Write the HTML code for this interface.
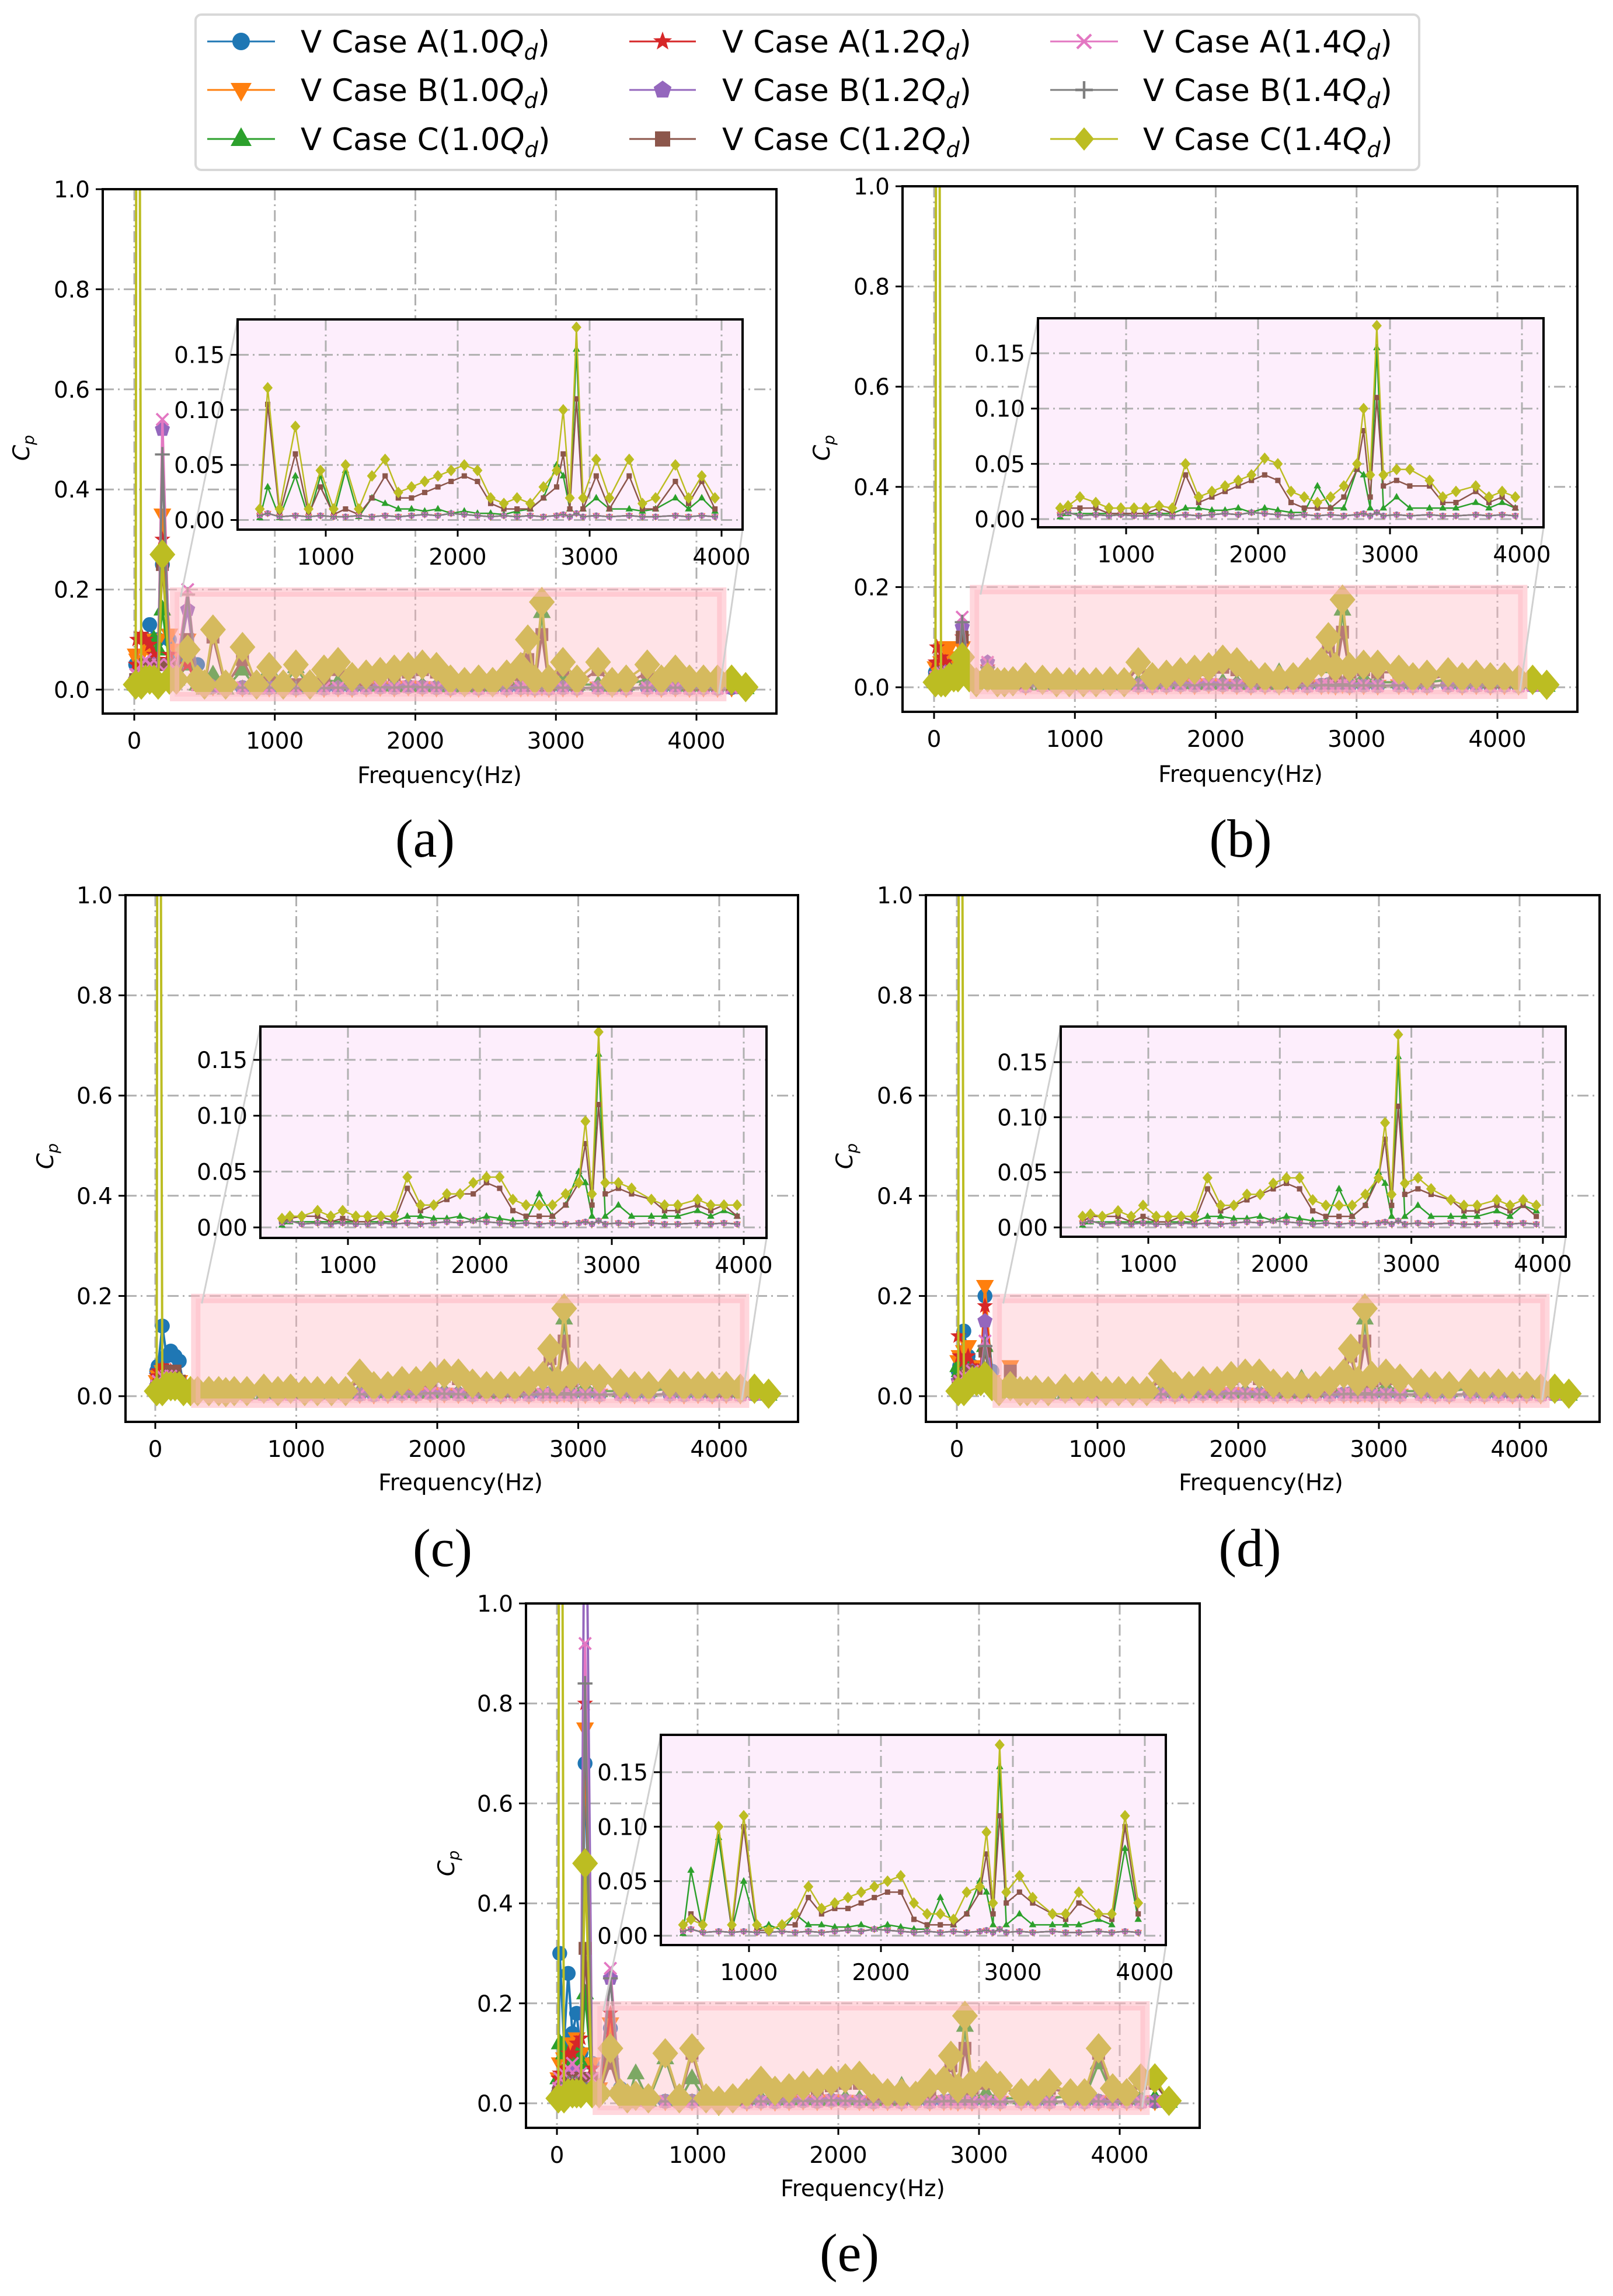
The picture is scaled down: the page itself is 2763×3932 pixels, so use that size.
<!DOCTYPE html>
<html><head><meta charset="utf-8"><style>
html,body{margin:0;padding:0;background:#fff;}
svg{display:block;}
text{font-family:"DejaVu Sans","Liberation Sans",sans-serif;}
</style></head><body>
<svg id="fig" xmlns="http://www.w3.org/2000/svg" width="2763" height="3932" viewBox="0 0 2763 3932">
<rect x="0" y="0" width="2763" height="3932" fill="#fff"/>
<g id="legend"></g>
<g id="panels"></g>
</svg>
<script>
// ---------- DATA ----------
const seriesNames = ["V Case A(1.0Q)","V Case B(1.0Q)","V Case C(1.0Q)","V Case A(1.2Q)","V Case B(1.2Q)","V Case C(1.2Q)","V Case A(1.4Q)","V Case B(1.4Q)","V Case C(1.4Q)"];
const freqLow = [10,20,50,80,110,140,170,200,250,300,380,450];
const freqHigh = [500,560,650,770,870,960,1060,1150,1250,1350,1450,1550,1650,1750,1850,1950,2050,2150,2250,2350,2450,2550,2650,2750,2800,2850,2900,2950,3050,3150,3300,3400,3500,3650,3750,3850,3950,4050,4150,4250,4350];
const otherHigh = [0.004,0.006,0.003,0.004,0.003,0.004,0.003,0.003,0.004,0.003,0.004,0.003,0.004,0.005,0.004,0.006,0.005,0.004,0.003,0.004,0.003,0.004,0.003,0.004,0.005,0.003,0.006,0.003,0.004,0.003,0.004,0.003,0.003,0.004,0.003,0.004,0.003,0.004,0.003,0.004,0.002];

// panel (a)
const lowA = [
[0.05,0.05,0.05,0.1,0.13,0.1,0.1,0.25,0.1,0.05,0.06,0.05],
[0.07,0.06,0.07,0.1,0.08,0.1,0.1,0.35,0.11,0.08,0.1,0.02],
[0.01,0.01,0.02,0.03,0.05,0.1,0.08,0.16,0.05,0.02,0.05,0.01],
[0.05,0.1,0.11,0.1,0.09,0.07,0.06,0.3,0.07,0.05,0.05,0.01],
[0.02,0.02,0.03,0.04,0.05,0.05,0.05,0.52,0.05,0.04,0.16,0.01],
[0.02,0.02,0.03,0.05,0.04,0.05,0.05,0.25,0.05,0.04,0.1,0.01],
[0.03,0.03,0.05,0.06,0.05,0.04,0.05,0.54,0.05,0.04,0.2,0.01],
[0.01,0.02,0.02,0.03,0.03,0.03,0.03,0.47,0.03,0.02,0.19,0.01],
[0.01,3,0.01,0.02,0.02,0.02,0.01,0.27,0.02,0.02,0.08,0.02]];
const c10A = [0.002,0.03,0.002,0.04,0.002,0.04,0.003,0.045,0.003,0.02,0.015,0.01,0.01,0.008,0.01,0.006,0.008,0.006,0.006,0.005,0.008,0.01,0.02,0.05,0.04,0.01,0.155,0.01,0.02,0.01,0.01,0.008,0.01,0.02,0.01,0.02,0.008,0.01,0.01,0.01,0.003];
const c12A = [0.005,0.105,0.005,0.06,0.005,0.03,0.005,0.01,0.005,0.02,0.04,0.02,0.02,0.025,0.03,0.035,0.04,0.035,0.015,0.01,0.01,0.01,0.02,0.03,0.06,0.01,0.11,0.01,0.04,0.01,0.04,0.01,0.01,0.035,0.015,0.035,0.01,0.01,0.01,0.01,0.003];
const c14A = [0.01,0.12,0.01,0.085,0.01,0.045,0.01,0.05,0.01,0.04,0.055,0.025,0.03,0.035,0.04,0.045,0.05,0.045,0.02,0.015,0.02,0.015,0.03,0.045,0.1,0.02,0.175,0.02,0.055,0.02,0.055,0.015,0.02,0.05,0.02,0.04,0.02,0.02,0.02,0.02,0.005];

// panel (b)
const lowB = [
[0.03,0.03,0.04,0.05,0.04,0.03,0.04,0.05,0.02,0.01,0.01,0.01],
[0.04,0.04,0.05,0.08,0.08,0.06,0.05,0.08,0.02,0.01,0.01,0.01],
[0.01,0.01,0.02,0.03,0.03,0.03,0.04,0.07,0.02,0.01,0.01,0.01],
[0.05,0.08,0.06,0.05,0.04,0.03,0.03,0.1,0.02,0.01,0.04,0.01],
[0.02,0.02,0.03,0.03,0.03,0.03,0.03,0.12,0.02,0.01,0.05,0.01],
[0.02,0.02,0.03,0.03,0.03,0.03,0.03,0.1,0.02,0.01,0.03,0.01],
[0.02,0.02,0.03,0.03,0.03,0.03,0.03,0.14,0.02,0.01,0.05,0.01],
[0.01,0.01,0.02,0.02,0.02,0.02,0.02,0.13,0.02,0.01,0.04,0.01],
[0.01,3,0.01,0.01,0.02,0.02,0.02,0.06,0.02,0.01,0.02,0.01]];
const c10B = [0.002,0.005,0.005,0.005,0.005,0.005,0.005,0.005,0.005,0.005,0.01,0.01,0.008,0.008,0.01,0.006,0.01,0.008,0.006,0.006,0.03,0.01,0.01,0.045,0.04,0.01,0.155,0.01,0.02,0.01,0.01,0.01,0.01,0.015,0.01,0.015,0.01,0.01,0.01,0.01,0.003];
const c12B = [0.005,0.01,0.01,0.01,0.005,0.005,0.005,0.005,0.01,0.005,0.04,0.015,0.02,0.025,0.03,0.035,0.04,0.035,0.015,0.01,0.01,0.01,0.02,0.045,0.08,0.02,0.11,0.03,0.035,0.03,0.03,0.015,0.015,0.025,0.015,0.02,0.01,0.01,0.01,0.01,0.003];
const c14B = [0.01,0.012,0.02,0.015,0.01,0.01,0.01,0.01,0.012,0.01,0.05,0.02,0.025,0.03,0.035,0.04,0.055,0.05,0.025,0.02,0.015,0.02,0.03,0.05,0.1,0.04,0.175,0.04,0.045,0.045,0.035,0.02,0.025,0.03,0.02,0.025,0.02,0.02,0.015,0.015,0.005];

// panel (c)
const lowC = [
[0.05,0.06,0.14,0.08,0.09,0.08,0.07,0.02,0.01,0.01,0.01,0.01],
[0.03,0.04,0.05,0.04,0.04,0.03,0.03,0.02,0.01,0.01,0.01,0.01],
[0.02,0.03,0.04,0.03,0.03,0.02,0.02,0.01,0.01,0.01,0.01,0.01],
[0.04,0.05,0.06,0.05,0.05,0.04,0.03,0.02,0.01,0.01,0.01,0.01],
[0.02,0.02,0.03,0.03,0.03,0.02,0.02,0.01,0.01,0.01,0.01,0.01],
[0.02,0.02,0.03,0.04,0.05,0.05,0.03,0.02,0.01,0.01,0.01,0.01],
[0.02,0.03,0.04,0.04,0.04,0.03,0.02,0.01,0.01,0.01,0.01,0.01],
[0.01,0.01,0.02,0.02,0.02,0.02,0.02,0.01,0.01,0.01,0.01,0.01],
[0.01,3,0.01,0.02,0.02,0.02,0.02,0.01,0.01,0.01,0.01,0.01]];
const c10C = [0.002,0.005,0.005,0.005,0.005,0.005,0.005,0.005,0.005,0.005,0.01,0.01,0.008,0.008,0.01,0.006,0.01,0.008,0.006,0.006,0.03,0.01,0.02,0.05,0.04,0.01,0.155,0.01,0.02,0.01,0.01,0.01,0.01,0.015,0.01,0.015,0.01,0.01,0.01,0.01,0.003];
const c12C = [0.005,0.008,0.01,0.01,0.005,0.008,0.005,0.005,0.01,0.005,0.035,0.015,0.02,0.025,0.03,0.03,0.04,0.035,0.015,0.01,0.01,0.01,0.02,0.04,0.075,0.02,0.11,0.03,0.035,0.03,0.025,0.015,0.015,0.02,0.015,0.02,0.01,0.01,0.01,0.01,0.003];
const c14C = [0.008,0.01,0.01,0.015,0.01,0.015,0.01,0.01,0.01,0.01,0.045,0.02,0.02,0.03,0.03,0.04,0.045,0.045,0.025,0.02,0.02,0.02,0.03,0.04,0.095,0.03,0.175,0.04,0.04,0.035,0.025,0.02,0.02,0.025,0.02,0.02,0.02,0.02,0.015,0.015,0.005];

// panel (d)
const lowD = [
[0.05,0.06,0.13,0.08,0.06,0.05,0.04,0.2,0.05,0.01,0.01,0.01],
[0.07,0.08,0.09,0.1,0.06,0.05,0.05,0.22,0.03,0.01,0.06,0.01],
[0.06,0.05,0.07,0.05,0.04,0.03,0.03,0.1,0.03,0.01,0.02,0.01],
[0.12,0.08,0.07,0.08,0.06,0.05,0.05,0.18,0.03,0.01,0.02,0.01],
[0.03,0.03,0.04,0.05,0.05,0.04,0.04,0.15,0.03,0.01,0.02,0.01],
[0.02,0.03,0.04,0.05,0.04,0.04,0.03,0.09,0.02,0.01,0.05,0.01],
[0.02,0.03,0.04,0.04,0.05,0.04,0.04,0.11,0.02,0.01,0.02,0.01],
[0.01,0.02,0.03,0.03,0.03,0.03,0.03,0.1,0.02,0.01,0.02,0.01],
[0.01,3,0.01,0.02,0.03,0.03,0.03,0.04,0.02,0.01,0.02,0.01]];
const c10D = [0.002,0.005,0.005,0.005,0.005,0.005,0.005,0.005,0.005,0.005,0.01,0.01,0.008,0.008,0.01,0.006,0.01,0.008,0.006,0.006,0.035,0.01,0.02,0.05,0.04,0.01,0.155,0.01,0.02,0.01,0.01,0.01,0.01,0.015,0.01,0.02,0.015,0.01,0.01,0.01,0.003];
const c12D = [0.005,0.01,0.01,0.01,0.005,0.01,0.005,0.005,0.01,0.005,0.035,0.015,0.02,0.025,0.03,0.035,0.04,0.035,0.015,0.01,0.01,0.01,0.02,0.045,0.08,0.02,0.11,0.03,0.035,0.03,0.025,0.015,0.015,0.02,0.015,0.02,0.01,0.01,0.01,0.01,0.003];
const c14D = [0.01,0.012,0.01,0.015,0.01,0.02,0.01,0.01,0.01,0.01,0.045,0.02,0.02,0.03,0.03,0.04,0.045,0.045,0.025,0.02,0.02,0.02,0.03,0.045,0.095,0.03,0.175,0.04,0.045,0.035,0.025,0.02,0.02,0.025,0.02,0.025,0.02,0.02,0.015,0.015,0.005];

// panel (e)
const lowE = [
[0.02,0.3,0.12,0.26,0.14,0.18,0.1,0.68,0.08,0.02,0.15,0.03],
[0.05,0.08,0.09,0.1,0.12,0.13,0.1,0.75,0.08,0.03,0.16,0.02],
[0.05,0.12,0.1,0.08,0.09,0.1,0.08,0.22,0.05,0.02,0.1,0.03],
[0.05,0.06,0.07,0.1,0.1,0.12,0.13,0.8,0.07,0.02,0.18,0.02],
[0.02,0.03,0.04,0.05,0.06,0.06,0.05,1.5,0.04,0.02,0.25,0.02],
[0.02,0.03,0.04,0.05,0.05,0.05,0.05,0.31,0.05,0.02,0.08,0.02],
[0.03,0.05,0.06,0.07,0.08,0.07,0.06,0.92,0.05,0.02,0.27,0.02],
[0.01,0.02,0.03,0.04,0.04,0.04,0.04,0.84,0.03,0.02,0.25,0.01],
[0.01,3,0.01,0.02,0.02,0.02,0.02,0.48,0.02,0.02,0.11,0.02]];
const c10E = [0.002,0.06,0.005,0.09,0.005,0.05,0.005,0.01,0.005,0.02,0.01,0.01,0.008,0.008,0.01,0.006,0.01,0.008,0.006,0.006,0.035,0.01,0.02,0.05,0.04,0.01,0.155,0.01,0.02,0.01,0.01,0.01,0.01,0.015,0.01,0.08,0.015,0.01,0.01,0.01,0.003];
const c12E = [0.005,0.02,0.01,0.1,0.005,0.1,0.005,0.005,0.01,0.01,0.035,0.02,0.025,0.025,0.03,0.035,0.04,0.04,0.015,0.01,0.01,0.01,0.02,0.04,0.075,0.02,0.11,0.03,0.04,0.03,0.02,0.015,0.03,0.02,0.015,0.1,0.02,0.01,0.04,0.04,0.003];
const c14E = [0.01,0.015,0.01,0.1,0.01,0.11,0.01,0.005,0.01,0.02,0.045,0.025,0.03,0.035,0.04,0.045,0.05,0.055,0.03,0.02,0.02,0.015,0.04,0.045,0.095,0.03,0.175,0.04,0.055,0.035,0.02,0.02,0.04,0.02,0.02,0.11,0.03,0.02,0.05,0.05,0.005];

const mainYTicks = [0.0,0.2,0.4,0.6,0.8,1.0];
const mainYLabels = ["0.0","0.2","0.4","0.6","0.8","1.0"];
const mainXTicks = [0,1000,2000,3000,4000];
const insetYTicks = [0,0.05,0.10,0.15];
const insetYLabels = ["0.00","0.05","0.10","0.15"];
const insetXTicks = [1000,2000,3000,4000];

// ---------- STYLE / LAYOUT ----------
const NS = "http://www.w3.org/2000/svg";
const colors = ["#1f77b4","#ff7f0e","#2ca02c","#d62728","#9467bd","#8c564b","#e377c2","#7f7f7f","#bcbd22"];
const shapes = ["circle","tridown","triup","star","pentagon","square","x","plus","diamond"];
const panels = [
 {id:"a", low:lowA, hi:[c10A,c12A,c14A], box:[176,1330,324,1222], fx0:230, kx:0.24075, y0:1181, ky:857,
  ibox:[407,1272,547,907], if1:558, ikx:0.226, iy0:890.5, iky:1886, lbl:[728,1437], ylab:[38,767], xlab:[753,1327]},
 {id:"b", low:lowB, hi:[c10B,c12B,c14B], box:[1546,2702,319,1219], fx0:1600, kx:0.24125, y0:1177, ky:858,
  ibox:[1778,2644,545,903], if1:1929, ikx:0.226, iy0:889, iky:1893, lbl:[2125,1437], ylab:[1409,767], xlab:[2125,1325]},
 {id:"c", low:lowC, hi:[c10C,c12C,c14C], box:[215,1367,1533,2435], fx0:266, kx:0.2415, y0:2391, ky:858,
  ibox:[446,1313,1758,2120], if1:596, ikx:0.226, iy0:2102, iky:1913, lbl:[758,2652], ylab:[79,1980], xlab:[789,2538]},
 {id:"d", low:lowD, hi:[c10D,c12D,c14D], box:[1586,2740,1533,2435], fx0:1639, kx:0.241, y0:2391, ky:858,
  ibox:[1817,2682,1758,2118], if1:1967, ikx:0.2253, iy0:2102, iky:1887, lbl:[2141,2652], ylab:[1448,1980], xlab:[2160,2538]},
 {id:"e", low:lowE, hi:[c10E,c12E,c14E], box:[901,2055,2746,3644], fx0:954, kx:0.241, y0:3602, ky:856,
  ibox:[1132,1997,2971,3331], if1:1283, ikx:0.226, iy0:3315, iky:1867, lbl:[1455,3859], ylab:[766,3191], xlab:[1478,3747]}
];

function el(tag, attrs, parent){
  const e = document.createElementNS(NS, tag);
  for (const k in attrs) e.setAttribute(k, attrs[k]);
  if (parent) parent.appendChild(e);
  return e;
}

function marker(g, shape, x, y, s, color){
  let m;
  if (shape==="circle") m = el("circle",{cx:x,cy:y,r:s*0.75,fill:color},g);
  else if (shape==="diamond") m = el("polygon",{points:`${x},${y-s} ${x+s*0.85},${y} ${x},${y+s} ${x-s*0.85},${y}`,fill:color},g);
  else if (shape==="square") m = el("rect",{x:x-s*0.65,y:y-s*0.65,width:s*1.3,height:s*1.3,fill:color},g);
  else if (shape==="triup") m = el("polygon",{points:`${x},${y-s} ${x+s*0.9},${y+s*0.6} ${x-s*0.9},${y+s*0.6}`,fill:color},g);
  else if (shape==="tridown") m = el("polygon",{points:`${x},${y+s} ${x+s*0.9},${y-s*0.6} ${x-s*0.9},${y-s*0.6}`,fill:color},g);
  else if (shape==="pentagon"){
    let p=[]; for(let i=0;i<5;i++){const a=-Math.PI/2+i*2*Math.PI/5; p.push((x+s*0.8*Math.cos(a))+","+(y+s*0.8*Math.sin(a)));}
    m = el("polygon",{points:p.join(" "),fill:color},g);
  } else if (shape==="star"){
    let p=[]; for(let i=0;i<10;i++){const a=-Math.PI/2+i*Math.PI/5; const r=i%2?s*0.35:s*0.85; p.push((x+r*Math.cos(a))+","+(y+r*Math.sin(a)));}
    m = el("polygon",{points:p.join(" "),fill:color},g);
  } else if (shape==="x"){
    const d=s*0.6; m = el("path",{d:`M${x-d},${y-d}L${x+d},${y+d}M${x-d},${y+d}L${x+d},${y-d}`,stroke:color,"stroke-width":Math.max(2,s*0.22),fill:"none"},g);
  } else {
    const d=s*0.75; m = el("path",{d:`M${x-d},${y}L${x+d},${y}M${x},${y-d}L${x},${y+d}`,stroke:color,"stroke-width":Math.max(2,s*0.22),fill:"none"},g);
  }
  
  
  return m;
}

function seriesData(P, i){
  const f = freqLow.concat(freqHigh);
  let hv;
  if (i===2) hv = P.hi[0]; else if (i===5) hv = P.hi[1]; else if (i===8) hv = P.hi[2]; else hv = otherHigh;
  const v = P.low[i].concat(hv);
  return {f, v};
}

const root = document.getElementById("panels");

panels.forEach(P => {
  const g = el("g",{},root);
  
  
  const [L,R,T,B] = P.box;
  const sx = f => P.fx0 + f*P.kx;
  const sy = v => P.y0 - v*P.ky;
  const isx = f => P.if1 + (f-1000)*P.ikx;
  const isy = v => P.iy0 - v*P.iky;
  const [iL,iR,iT,iB] = P.ibox;

  const defs = el("defs",{},g);
  const cp = el("clipPath",{id:"clip"+P.id},defs);
  el("rect",{x:L,y:T,width:R-L,height:B-T},cp);
  const icp = el("clipPath",{id:"iclip"+P.id},defs);
  el("rect",{x:iL,y:iT,width:iR-iL,height:iB-iT},icp);

  const grid = el("g",{stroke:"#b0b0b0","stroke-width":3,"stroke-dasharray":"19,7,3,7"},g);
  
  
  mainXTicks.forEach(t=>el("line",{x1:sx(t),x2:sx(t),y1:T,y2:B},grid));
  mainYTicks.forEach(t=>el("line",{x1:L,x2:R,y1:sy(t),y2:sy(t)},grid));

  const sg = el("g",{"clip-path":`url(#clip${P.id})`},g);
  
  
  for (let i=0;i<9;i++){
    const d = seriesData(P,i);
    const pts = d.f.map((f,k)=>sx(f)+","+sy(d.v[k])).join(" ");
    const line = el("polyline",{points:pts,fill:"none",stroke:colors[i],"stroke-width":4},sg);
    
    
    const ms = shapes[i]==="diamond" ? 26 : 17;
    d.f.forEach((f,k)=>marker(sg, shapes[i], sx(f), sy(d.v[k]), ms, colors[i]));
  }

  const zr = el("rect",{x:sx(287),y:sy(0.195),width:sx(4180)-sx(287),height:sy(-0.014)-sy(0.195),fill:"rgba(255,182,193,0.38)",stroke:"rgba(255,182,193,0.55)","stroke-width":16},g);
  
  
  const c1 = el("line",{x1:sx(330),y1:sy(0.185),x2:iL,y2:iT,stroke:"#d0d0d0","stroke-width":3},g);
  
  
  const c2 = el("line",{x1:sx(4160),y1:sy(-0.008),x2:iR,y2:iB,stroke:"#d0d0d0","stroke-width":3},g);
  
  

  const frame = el("rect",{x:L,y:T,width:R-L,height:B-T,fill:"none",stroke:"#000","stroke-width":4},g);
  
  
  mainXTicks.forEach(t=>{
    el("line",{x1:sx(t),x2:sx(t),y1:B,y2:B+12,stroke:"#000","stroke-width":3},g);
    const tx = el("text",{x:sx(t),y:B+60,"font-size":39,"text-anchor":"middle"},g);
    tx.textContent = String(t);
    
    
  });
  mainYTicks.forEach((t,k)=>{
    el("line",{x1:L-12,x2:L,y1:sy(t),y2:sy(t),stroke:"#000","stroke-width":3},g);
    const tx = el("text",{x:L-22,y:sy(t)+14,"font-size":39,"text-anchor":"end"},g);
    tx.textContent = mainYLabels[k];
    
    
  });
  const xl = el("text",{x:P.xlab[0],y:P.xlab[1]+14,"font-size":39,"text-anchor":"middle"},g);
  xl.textContent = "Frequency(Hz)";
  
  
  const yl = el("text",{x:0,y:0,"font-size":39,"text-anchor":"middle","font-style":"italic",transform:`translate(${P.ylab[0]+12},${P.ylab[1]}) rotate(-90)`},g);
  yl.innerHTML = 'C<tspan font-size="27" dy="8">p</tspan>';
  
  

  const ig = el("g",{},g);
  
  
  el("rect",{x:iL,y:iT,width:iR-iL,height:iB-iT,fill:"#fdeefc"},ig);
  const igrid = el("g",{stroke:"#b0b0b0","stroke-width":3,"stroke-dasharray":"19,7,3,7","clip-path":`url(#iclip${P.id})`},ig);
  
  
  insetXTicks.forEach(t=>el("line",{x1:isx(t),x2:isx(t),y1:iT,y2:iB},igrid));
  insetYTicks.forEach(t=>el("line",{x1:iL,x2:iR,y1:isy(t),y2:isy(t)},igrid));
  const isg = el("g",{"clip-path":`url(#iclip${P.id})`},ig);
  
  
  for (let i=0;i<9;i++){
    const d = seriesData(P,i);
    const f = [], v = [];
    d.f.forEach((x,k)=>{ if (x>=500 && x<=4000){ f.push(x); v.push(d.v[k]); } });
    const pts = f.map((x,k)=>isx(x)+","+isy(v[k])).join(" ");
    const line = el("polyline",{points:pts,fill:"none",stroke:colors[i],"stroke-width":2.5},isg);
    
    
    const ms = shapes[i]==="diamond" ? 10 : 7;
    f.forEach((x,k)=>marker(isg, shapes[i], isx(x), isy(v[k]), ms, colors[i]));
  }
  el("rect",{x:iL,y:iT,width:iR-iL,height:iB-iT,fill:"none",stroke:"#000","stroke-width":4},ig);
  insetXTicks.forEach(t=>{
    el("line",{x1:isx(t),x2:isx(t),y1:iB,y2:iB+12,stroke:"#000","stroke-width":3},ig);
    const tx = el("text",{x:isx(t),y:iB+60,"font-size":39,"text-anchor":"middle"},ig);
    tx.textContent = String(t);
    
    
  });
  insetYTicks.forEach((t,k)=>{
    el("line",{x1:iL-12,x2:iL,y1:isy(t),y2:isy(t),stroke:"#000","stroke-width":3},ig);
    const tx = el("text",{x:iL-22,y:isy(t)+14,"font-size":39,"text-anchor":"end"},ig);
    tx.textContent = insetYLabels[k];
    
    
  });

  const pl = el("text",{x:P.lbl[0],y:P.lbl[1]+30,"font-size":92,"text-anchor":"middle"},g);
  pl.setAttribute("style","font-family:'Liberation Serif',serif");
  pl.textContent = "("+P.id+")";
  
  
});

const lg = document.getElementById("legend");
el("rect",{x:335,y:25,width:2096,height:266,rx:10,fill:"#fff",stroke:"#d8d8d8","stroke-width":4},lg);
const colX = [[355,471,515],[1078,1192,1237],[1799,1915,1958]];
const rowY = [71,154,238];
const qLabels = ["1.0","1.2","1.4"];
const caseL = ["A","B","C"];
for (let c=0;c<3;c++) for (let r=0;r<3;r++){
  const i = c*3+r;
  const eg = el("g",{},lg);
  
  
  el("line",{x1:colX[c][0],x2:colX[c][1],y1:rowY[r],y2:rowY[r],stroke:colors[i],"stroke-width":3},eg);
  marker(eg, shapes[i], (colX[c][0]+colX[c][1])/2, rowY[r], 20, colors[i]);
  const t = el("text",{x:colX[c][2],y:rowY[r]+19,"font-size":53},eg);
  t.innerHTML = `V Case ${caseL[r]}(${qLabels[c]}<tspan font-style="italic">Q</tspan><tspan font-style="italic" font-size="37" dy="12">d</tspan><tspan dy="-12">)</tspan>`;
}
</script>
</body></html>
